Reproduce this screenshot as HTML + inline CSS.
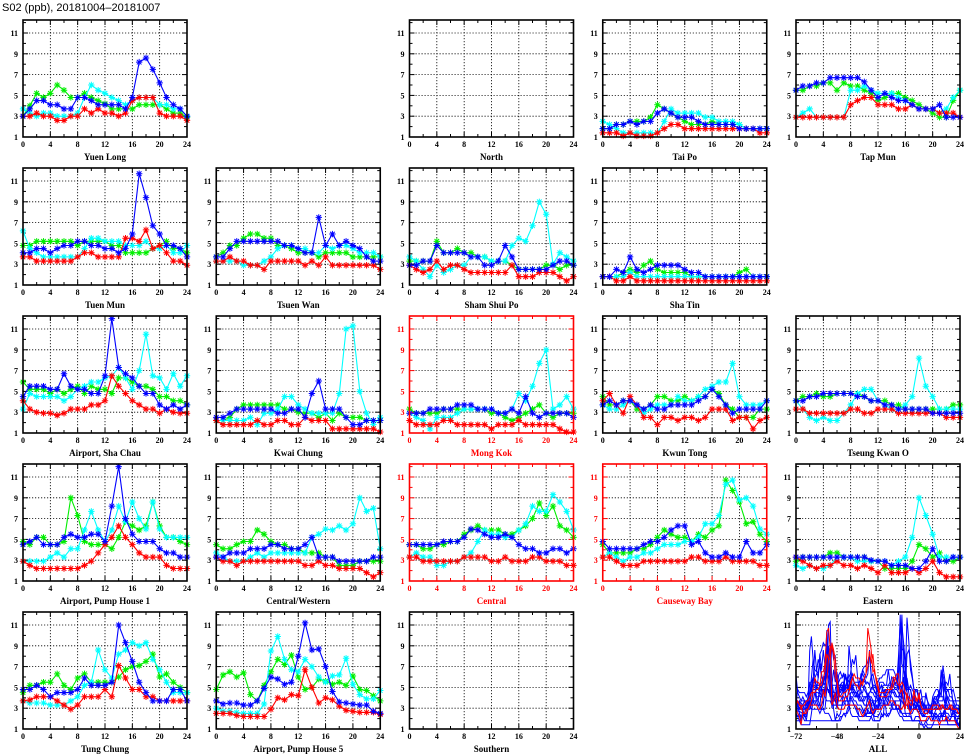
<!DOCTYPE html>
<html><head><meta charset="utf-8"><style>
html,body{margin:0;padding:0;background:#fff;}
svg{display:block;}
text{font-family:"Liberation Serif",serif;font-weight:bold;}
</style></head><body>
<svg id="chart" width="965" height="755" viewBox="0 0 965 755" xmlns="http://www.w3.org/2000/svg">
<rect width="965" height="755" fill="#fff"/>
<text x="2" y="11" font-size="11" style="font-family:'Liberation Sans',sans-serif;font-weight:normal">S02 (ppb), 20181004–20181007</text>
</svg>
<script>
const hours = [0,1,2,3,4,5,6,7,8,9,10,11,12,13,14,15,16,17,18,19,20,21,22,23,24];
const xTickLabels = [0,4,8,12,16,20,24];
const yTickLabels = [1,3,5,7,9,11];
const allXTickLabels = [-72,-48,-24,0,24];

const yuenLong_red=[3,3,3.3,3,3,2.6,2.6,3,3,3.7,3.3,3.7,3.3,3.3,3,3.3,4.5,4.8,4.8,4.8,3.3,3,3,3,2.6];
const yuenLong_green=[3,4,5.2,4.8,5.2,6,5.5,4.8,4.8,5.2,4.8,4.5,4.2,3.7,3.7,3.7,3.7,4.1,4.1,4.1,4.1,3.7,3.3,3.3,2.9];
const yuenLong_cyan=[3.7,3.3,3,3.3,3.3,3,3,3,3.3,4.8,6,5.5,5.2,4.8,4.5,4.1,4.5,4.8,4.8,4.8,4.1,4.1,3.7,3.7,3];
const yuenLong_blue=[3,3.7,4.5,4.5,4.1,4.1,3.7,3.7,4.8,4.8,4.5,4.1,4.1,4.1,4.1,3.7,4.8,8.2,8.6,7.5,6.2,4.8,4.1,3.7,3];

const taiPo_red=[1.4,1.4,1.4,1.1,1.4,1.1,1.1,1.1,1.4,1.8,2.2,2.2,1.8,1.8,1.8,1.8,1.8,1.8,1.8,1.8,1.8,1.8,1.8,1.4,1.4];
const taiPo_green=[1.8,1.8,2.2,2.2,2.5,2.5,2.5,2.9,4.1,3.7,3.3,2.9,2.5,2.2,2.2,2.2,2.5,2.2,2.2,2.2,2.2,1.8,1.8,1.8,1.8];
const taiPo_cyan=[2.5,2.2,1.8,1.4,1.4,1.4,1.4,1.4,1.4,2.5,3.7,3.3,3.3,3.3,3.3,2.9,2.9,2.5,2.5,2.5,2.2,1.8,1.8,1.8,1.8];
const taiPo_blue=[1.8,1.8,2.2,2.2,2.5,2.2,2.5,2.5,3.3,3.7,3.3,2.9,2.9,2.9,2.5,2.2,2.2,2.2,2.2,2.2,1.8,1.8,1.8,1.8,1.8];

const tapMun_red=[2.9,2.9,2.9,2.9,2.9,2.9,2.9,2.9,4.1,4.5,4.8,4.8,4.1,4.1,4.1,3.7,3.7,4.1,3.7,3.7,3.7,3.3,3.3,3.3,2.9];
const tapMun_green=[5.5,5.5,5.9,5.9,6.2,6.2,5.5,6.2,5.9,5.9,5.5,5.2,4.5,4.8,5.2,5.2,4.8,4.5,4.1,3.7,3.3,2.9,2.9,4.5,5.5];
const tapMun_cyan=[2.9,3.3,3.7,2.9,2.9,2.9,2.9,2.9,5.5,5.5,5.9,5.5,5.2,5.2,5.2,4.8,4.5,4.1,3.7,3.7,3.7,3.3,3.7,4.8,5.5];
const tapMun_blue=[5.5,5.9,5.9,6.2,6.2,6.7,6.7,6.7,6.7,6.7,6.3,5.5,4.8,5.2,4.8,4.5,4.5,4.1,3.7,3.7,3.7,4.1,2.9,2.9,2.9];

const tuenMun_red=[3.7,3.7,3.3,3.3,3.3,3.3,3.3,3.3,3.7,4.1,4.1,3.7,3.7,3.7,3.7,5.5,5.5,5.2,6.3,4.5,4.8,4.1,3.3,3.3,2.9];
const tuenMun_green=[4.8,4.8,5.2,5.2,5.2,5.2,5.2,5.2,4.8,5.2,5.2,5.2,5.2,4.8,4.8,4.1,4.1,4.1,4.1,4.5,4.8,5.2,4.5,4.5,4.1];
const tuenMun_cyan=[6.2,4.5,4.1,3.7,3.7,3.7,3.7,3.7,3.7,4.5,5.5,5.5,5.2,5.2,5.2,4.8,4.8,4.8,5.2,4.5,4.5,4.8,4.1,4.1,4.8];
const tuenMun_blue=[4.1,4.1,4.5,4.5,4.1,4.5,4.8,4.8,5.2,5.2,4.8,4.8,4.5,4.5,4.1,4.5,5.9,11.7,9.4,6.7,5.9,4.8,4.8,4.5,3.7];

const tsuenWan_red=[3.3,3.3,3.7,3.3,3.3,2.9,2.9,2.5,3.3,3.3,3.3,3.3,3.3,2.9,3.3,2.9,3.7,2.9,2.9,2.9,2.9,2.9,2.9,2.9,2.5];
const tsuenWan_green=[3.7,4.1,4.8,4.8,5.5,5.9,5.9,5.5,5.5,4.8,4.8,4.5,4.1,4.1,4.1,3.7,4.1,4.1,4.1,4.1,3.7,3.7,3.7,3.7,3.7];
const tsuenWan_cyan=[3.3,3.3,3.3,3.3,2.9,2.9,2.9,3.3,3.7,4.5,4.8,4.8,4.5,4.5,4.1,4.1,4.8,4.5,4.8,4.8,4.5,4.1,4.1,4.1,3.7];
const tsuenWan_blue=[3.7,3.7,4.5,5.2,5.2,5.2,5.2,5.2,5.2,5.2,4.8,4.8,4.5,4.1,4.1,7.5,4.8,5.9,4.8,5.2,4.8,4.5,3.7,3.3,3.3];

const shamShuiPo_red=[2.9,2.5,2.2,2.5,3.3,2.5,2.9,2.9,2.5,2.2,2.2,2.2,2.2,2.2,2.2,2.9,1.8,1.8,1.8,2.2,2.2,2.2,1.8,1.4,1.8];
const shamShuiPo_green=[3.3,3.3,3.3,3.3,5.2,4.1,4.1,4.5,4.1,4.1,3.7,3.7,3.3,3.3,3.3,2.9,2.5,2.5,2.5,2.5,2.9,2.9,2.5,2.9,2.9];
const shamShuiPo_cyan=[3.7,3.3,2.5,1.8,2.9,2.2,2.5,2.9,2.9,3.7,3.7,3.7,3.3,3.3,3.3,4.8,5.5,5.2,6.7,9,7.8,3,4.1,3.7,3.3];
const shamShuiPo_blue=[2.9,2.9,3.3,3.3,4.8,4.1,4.1,4.1,4.1,3.7,3.7,2.9,2.9,3.3,4.8,3.7,2.5,2.5,2.5,2.5,2.5,2.9,3.3,3.3,2.9];

const shaTin_red=[1.8,1.8,1.4,1.4,1.8,1.4,1.4,1.4,1.4,1.4,1.4,1.4,1.4,1.4,1.4,1.4,1.4,1.4,1.4,1.4,1.4,1.4,1.4,1.4,1.4];
const shaTin_green=[1.8,1.8,1.8,2.2,2.5,2.2,2.9,3.3,2.5,2.2,2.2,2.2,2.2,1.8,1.8,1.8,1.8,1.8,1.8,1.8,2.2,2.5,1.8,1.8,1.8];
const shaTin_cyan=[1.8,1.8,1.8,1.8,2.2,1.8,1.8,1.8,1.8,1.8,1.8,1.8,1.8,1.8,1.8,1.8,1.8,1.8,1.8,1.8,1.8,1.8,1.8,1.8,1.8];
const shaTin_blue=[1.8,1.8,2.5,2.2,3.7,2.5,2.2,2.5,2.9,2.9,2.9,2.9,2.5,2.2,2.2,1.8,1.8,1.8,1.8,1.8,1.8,1.8,1.8,1.8,1.8];

const airportShaChau_red=[4.1,3.3,3,2.9,2.9,2.7,2.9,3.3,3.3,3.3,3.7,3.7,4.1,6.5,5.5,4.8,4.1,3.7,3.3,3.3,2.9,3.3,3,2.9,2.9];
const airportShaChau_green=[5.9,5.2,5.2,5.2,4.8,5.2,4.8,5.2,5.5,4.8,5.5,5.2,5.2,4.8,6.3,6.3,5.9,5.5,5.5,5.2,4.5,4.5,4.1,4.1,3.7];
const airportShaChau_cyan=[3.3,4.8,4.5,4.5,4.5,4.5,4.1,4.5,5.2,5.5,5.9,5.9,6.3,6.5,7.3,6.3,5.2,7,10.5,6.5,6.3,5.2,6.7,5.5,6.5];
const airportShaChau_blue=[4.5,5.5,5.5,5.5,5.2,5.2,6.7,5.5,5.2,5.2,4.8,4.8,6.5,12,7.3,6.7,6.3,5.5,4.8,4.8,3.7,3.3,3.7,3.3,3.7];

const kwaiChung_red=[2.2,1.8,1.8,1.8,1.8,1.8,2.2,1.8,1.8,2.2,2.2,1.8,1.8,2.5,2.2,2.2,2.2,1.4,1.4,1.4,1.4,1.4,1.4,1.4,1.1];
const kwaiChung_green=[2.2,2.2,2.5,3.3,3.7,3.7,3.7,3.7,3.7,3.7,3.3,3.3,3,2.9,2.9,2.5,2.9,2.2,2.9,2.5,2.5,2.5,2.2,2.2,2.2];
const kwaiChung_cyan=[2.2,2.2,2.2,2.2,2.2,2.5,1.8,2.9,2.9,3.3,4.5,4.5,3.7,3.3,2.9,2.9,2.9,2.9,4.8,11,11.3,5,2.9,1.8,2.5];
const kwaiChung_blue=[2.5,2.5,2.9,3.3,3.3,3.3,3.3,3.3,3.3,2.9,2.9,3.3,3.3,2.5,4.8,6,3.3,3.3,3.3,2.5,1.8,1.8,2.2,2.2,2.2];

const mongKok_red=[2.2,1.8,1.8,1.8,1.8,2.2,2.2,1.8,1.8,1.8,1.8,1.8,1.4,1.8,1.8,1.8,2.2,1.8,1.8,1.8,1.8,1.8,1.4,1.1,1.1];
const mongKok_green=[3.3,2.9,2.9,2.9,2.9,3.3,3.3,3.3,3.3,3.3,3.3,3.3,2.9,2.9,2.5,2.2,2.5,2.9,3.3,3.7,2.9,2.5,2.9,2.9,2.9];
const mongKok_cyan=[2.9,2.5,2.2,1.4,2.5,2.5,2.5,2.9,3.3,3.3,3.3,3.3,3.3,2.9,2.9,3.3,4.8,4.1,5.5,7.7,9,3.3,3.7,4.5,3.3];
const mongKok_blue=[2.9,2.9,2.9,3.3,3.3,3.3,3.3,3.7,3.7,3.7,3.3,3.3,3.3,2.9,2.9,3.3,2.9,4.5,2.9,2.5,2.9,2.9,2.9,2.9,2.5];

const kwunTong_red=[4.1,4.8,3.7,2.9,4.5,3.7,2.5,2.5,1.8,2.5,2.5,2.2,2.5,2.5,2.2,2.5,3.3,3.3,3.3,2.2,2.5,2.5,1.4,2.2,2.5];
const kwunTong_green=[4.5,3.7,3.7,4.1,4.1,3.3,3.3,3.7,4.5,4.5,4.1,4.1,4.5,4.1,4.5,4.5,5.2,4.8,3.7,3.3,2.5,2.5,2.5,3.3,3.3];
const kwunTong_cyan=[3.7,3.3,3.3,3.7,4.1,3.7,2.9,3.3,3.7,3.7,3.7,4.5,4.1,4.1,4.5,5.2,5.5,5.9,5.9,7.7,4.5,3.7,3.7,3.7,4.1];
const kwunTong_blue=[3.7,4.1,3.7,4.1,4.1,3.7,3.3,3.7,3.3,3.3,3.7,3.7,3.7,3.7,4.1,4.5,5.2,4.5,3.7,2.9,3.3,3.3,3.3,3.3,4.1];

const tseungKwanO_red=[3.3,3.3,2.9,2.9,2.9,2.9,2.9,2.9,3.3,3.3,2.9,2.9,3.3,3.3,3.3,2.9,2.9,2.9,2.9,2.9,2.9,2.9,2.5,2.5,2.5];
const tseungKwanO_green=[4.1,4.5,4.5,4.8,4.5,4.5,4.8,4.8,4.8,4.8,4.5,4.1,4.1,4.1,3.7,3.7,3.3,3.3,3.3,3.3,3.3,3.3,3.3,3.7,3.7];
const tseungKwanO_cyan=[4.1,3.3,2.5,2.2,2.5,2.2,2.2,2.9,3.7,4.8,5.2,5.2,4.1,3.7,3.3,3.3,3.7,4.5,8.2,5.5,4.5,3.3,3.3,3.3,3.3];
const tseungKwanO_blue=[4.1,4.1,4.5,4.5,4.8,4.8,4.8,4.8,4.8,4.5,4.5,4.1,4.1,3.7,3.7,3.3,3.3,3.3,3.3,3.3,2.9,2.9,2.9,2.9,2.9];

const pumpHouse1_red=[2.9,2.5,2.2,2.2,2.2,2.2,2.2,2.2,2.2,2.5,2.9,3.7,4.5,5.2,6.3,5.2,4.5,3.7,3.3,3.3,3.3,2.5,2.2,2.2,2.2];
const pumpHouse1_green=[4.8,4.5,5.2,5.2,4.5,4.5,4.8,9,7.3,4.8,4.5,4.5,4.5,4.1,5.2,6.7,6.3,5.9,6.3,8.6,6.3,5.2,5.2,4.8,4.5];
const pumpHouse1_cyan=[2.9,2.9,2.9,2.9,3.3,3.7,3.3,4.1,4.1,5.9,7.7,5.9,4.8,5.9,8.2,6.7,8.6,7,6,8.6,6,5.2,5.2,5.2,5.2];
const pumpHouse1_blue=[4.5,4.8,5.2,4.5,4.5,4.5,5.2,5.5,5.2,5.2,5.5,5.5,4.8,8.2,12,7,5.5,4.8,4.8,4.8,4.1,3.7,3.7,3.3,3.3];

const centralWestern_red=[3.3,2.9,2.9,2.5,2.9,2.9,2.9,2.9,2.9,2.9,2.9,2.9,2.9,2.5,2.5,2.9,2.5,2.5,2.2,2.2,2.2,2.2,1.8,1.4,1.8];
const centralWestern_green=[4.5,4.1,4.1,4.5,4.8,4.8,5.9,5.5,4.8,4.5,4.5,4.1,4.1,3.7,3.7,3.7,3.3,3.3,2.5,2.5,2.5,2.9,2.9,2.9,2.9];
const centralWestern_cyan=[3.7,3.3,2.9,2.9,2.9,3.3,3.7,3.3,3.7,3.7,3.7,3.7,3.7,3.7,5.2,5.5,6,5.9,6.3,5.9,6.5,9,7.7,8,4.1];
const centralWestern_blue=[3.3,3.3,3.7,3.7,3.7,4.1,4.1,4.1,4.5,4.5,4.1,4.1,4.1,4.5,5.2,3.3,3.3,3.3,2.9,2.9,2.9,2.9,2.9,3.3,3.3];

const central_red=[3.3,3.3,2.9,2.9,2.9,2.9,2.9,2.9,3.3,3.3,3.3,3.3,2.9,2.9,3.3,2.9,2.9,2.9,3.3,3.3,2.9,2.9,2.9,2.5,2.5];
const central_green=[4.5,4.5,4.1,4.1,4.5,4.5,4.8,4.8,5.5,5.9,6.3,5.9,5.9,5.9,5.5,5.5,5.9,6.3,7,8.5,7.3,8.2,6.3,5.9,5.2];
const central_cyan=[3.3,3.7,3.3,3.3,2.5,2.5,2.9,2.9,3.3,3.7,4.8,5.9,5.5,5.5,5.2,5.2,5.9,6.5,8.2,7.7,7.7,9.3,8.6,7.7,5.9];
const central_blue=[4.5,4.5,4.5,4.5,4.5,4.8,4.8,4.8,5.2,6,5.9,5.5,5.2,5.2,5.5,5.2,4.5,4.1,4.1,3.7,3.7,4.1,4.1,3.7,4.1];

const causewayBay_red=[3.3,3.3,2.9,2.5,2.5,2.5,2.9,2.9,2.9,2.9,2.9,2.9,2.9,3.3,3.3,2.9,2.9,2.9,3.3,2.9,2.9,2.9,2.9,2.5,2.5];
const causewayBay_green=[4.5,3.7,3.7,3.7,3.7,4.1,4.1,4.5,5.2,5.9,5.5,5.2,5.2,4.8,5.5,5.2,5.9,6.3,10.7,9.7,8.6,6.5,6.7,5.5,4.8];
const causewayBay_cyan=[3.3,3.7,3.3,2.9,3.3,3.3,3.7,3.7,4.1,4.5,4.5,4.5,4.8,4.8,5.2,6.5,6.5,7.3,10.3,10.7,8.8,9,8.2,6,5.5];
const causewayBay_blue=[4.8,4.1,4.1,4.1,4.1,4.1,4.5,4.8,4.8,5.2,5.9,6.3,6.3,4.5,4.8,3.7,3.3,3.3,3.7,3.3,3.3,4.8,3.7,3.7,4.5];

const eastern_red=[3.3,2.9,2.5,2.2,2.5,2.5,2.9,2.5,2.5,2.2,2.5,2.2,1.8,2.5,1.8,1.8,1.8,2.2,1.8,2.2,2.9,1.8,1.4,1.4,1.4];
const eastern_green=[2.9,3.3,3.3,3.3,3.3,3.7,3.7,3.3,3.3,3.3,3.3,2.9,2.9,2.2,2.2,2.2,2.2,2.9,4.5,4.1,3.3,3.7,2.9,2.9,3.3];
const eastern_cyan=[2.5,2.2,2.5,2.2,2.2,2.5,3.3,3.3,3.3,2.9,2.9,2.9,2.9,2.9,2.5,2.9,3.3,5.2,9,7.3,5.5,3.3,3.3,3.3,3.3];
const eastern_blue=[3.3,3.3,3.3,3.3,3.3,3.3,3.3,3.3,3.3,3.3,3.3,3,2.9,2.9,2.5,2.5,2.5,2.2,2.2,2.9,4.1,2.9,2.9,3.3,3.3];

const tungChung_red=[3.7,3.8,4.1,4.1,4.1,3.7,3.3,2.9,3.3,4.1,4.1,4.1,4.8,4.1,7.1,5.9,4.8,4.8,4.1,4.1,3.7,3.7,3.7,3.7,3.7];
const tungChung_green=[4.5,5.2,5.2,5.5,5.5,6.3,5.2,4.8,5.9,6.3,5.5,5.5,5.5,5.5,6,6.7,7,7.1,7.5,8.2,6,6.3,5.5,5,4.5];
const tungChung_cyan=[3.7,3.5,3.5,3.5,3.3,3.3,3.3,3.7,4.1,5.2,5.5,8.6,6.7,5.9,8.2,8.6,9.3,9,9.3,7.7,6.7,5.5,4.5,4.5,4.5];
const tungChung_blue=[4.8,4.8,5.2,4.8,4.1,4.5,4.5,4.5,4.8,5.9,5.2,5.2,5.2,5.5,11,9.3,7.5,5.5,4.5,3.7,3.7,3.7,4.8,4.8,3.7];

const pumpHouse5_red=[2.5,2.5,2.5,2.3,2.2,2.2,2.2,2.2,2.9,4,3.8,4.3,4.2,6.7,5,3.5,4,3.8,3.2,2.8,2.7,2.6,2.6,2.6,2.4];
const pumpHouse5_green=[4.8,6.2,6.5,6,6.4,4.3,3.7,5.2,6.5,7.7,7.2,8.1,6,4.8,5,5.8,5.6,5.3,5.5,5.2,6.1,4.8,4.7,4.2,3.7];
const pumpHouse5_cyan=[3,2.7,2.7,2.6,2.5,2.5,2.5,3.4,8.5,9.9,7.7,6.7,6.5,7.7,7,6,5.5,6.1,6.2,7.8,5.3,4.3,3.9,3.9,4.7];
const pumpHouse5_blue=[3.7,3.4,3.5,3.5,3.3,3.3,3.7,4.9,6,5.8,5.3,5.5,8,11.2,8.6,8.7,7,4.6,3.6,3.5,3.4,3.3,3.3,2.7,2.5];

const panels = [
 {name:"Yuen Long",col:0,row:0,hl:false,s:[yuenLong_green,yuenLong_cyan,yuenLong_red,yuenLong_blue]},
 {name:"North",col:2,row:0,hl:false,s:null},
 {name:"Tai Po",col:3,row:0,hl:false,s:[taiPo_green,taiPo_cyan,taiPo_red,taiPo_blue]},
 {name:"Tap Mun",col:4,row:0,hl:false,s:[tapMun_green,tapMun_cyan,tapMun_red,tapMun_blue]},
 {name:"Tuen Mun",col:0,row:1,hl:false,s:[tuenMun_green,tuenMun_cyan,tuenMun_red,tuenMun_blue]},
 {name:"Tsuen Wan",col:1,row:1,hl:false,s:[tsuenWan_green,tsuenWan_cyan,tsuenWan_red,tsuenWan_blue]},
 {name:"Sham Shui Po",col:2,row:1,hl:false,s:[shamShuiPo_green,shamShuiPo_cyan,shamShuiPo_red,shamShuiPo_blue]},
 {name:"Sha Tin",col:3,row:1,hl:false,s:[shaTin_green,shaTin_cyan,shaTin_red,shaTin_blue]},
 {name:"Airport, Sha Chau",col:0,row:2,hl:false,s:[airportShaChau_green,airportShaChau_cyan,airportShaChau_red,airportShaChau_blue]},
 {name:"Kwai Chung",col:1,row:2,hl:false,s:[kwaiChung_green,kwaiChung_cyan,kwaiChung_red,kwaiChung_blue]},
 {name:"Mong Kok",col:2,row:2,hl:true,s:[mongKok_green,mongKok_cyan,mongKok_red,mongKok_blue]},
 {name:"Kwun Tong",col:3,row:2,hl:false,s:[kwunTong_green,kwunTong_cyan,kwunTong_red,kwunTong_blue]},
 {name:"Tseung Kwan O",col:4,row:2,hl:false,s:[tseungKwanO_green,tseungKwanO_cyan,tseungKwanO_red,tseungKwanO_blue]},
 {name:"Airport, Pump House 1",col:0,row:3,hl:false,s:[pumpHouse1_green,pumpHouse1_cyan,pumpHouse1_red,pumpHouse1_blue]},
 {name:"Central/Western",col:1,row:3,hl:false,s:[centralWestern_green,centralWestern_cyan,centralWestern_red,centralWestern_blue]},
 {name:"Central",col:2,row:3,hl:true,s:[central_green,central_cyan,central_red,central_blue]},
 {name:"Causeway Bay",col:3,row:3,hl:true,s:[causewayBay_green,causewayBay_cyan,causewayBay_red,causewayBay_blue]},
 {name:"Eastern",col:4,row:3,hl:false,s:[eastern_green,eastern_cyan,eastern_red,eastern_blue]},
 {name:"Tung Chung",col:0,row:4,hl:false,s:[tungChung_green,tungChung_cyan,tungChung_red,tungChung_blue]},
 {name:"Airport, Pump House 5",col:1,row:4,hl:false,s:[pumpHouse5_green,pumpHouse5_cyan,pumpHouse5_red,pumpHouse5_blue]},
 {name:"Southern",col:2,row:4,hl:false,s:null}
];
const seriesColors = ["#00ee00","#00ffff","#ff0000","#0000ff"];
const seriesNames = ["green","cyan","red","blue"];

const svg = document.getElementById('chart');
const NS = "http://www.w3.org/2000/svg";
const PW = 164, PH = 117, YMIN = 1, YMAX = 12.25;
function mk(tag, attrs, parent){
  const e = document.createElementNS(NS, tag);
  for (const k in attrs) e.setAttribute(k, attrs[k]);
  (parent||svg).appendChild(e);
  return e;
}
function slug(s){return s.toLowerCase().replace(/[^a-z0-9]+/g,'-').replace(/^-|-$/g,'');}

function drawAxes(g, L, T, xmin, xmax, xticks, xminor, color, name){
  const xs = v => L + (v - xmin) / (xmax - xmin) * PW;
  const ys = v => T + PH - (v - YMIN) / (YMAX - YMIN) * PH;
  xticks.forEach(v => { if (v > xmin && v < xmax) {
    const l = mk('line',{x1:xs(v),x2:xs(v),y1:T,y2:T+PH,stroke:'#000','stroke-width':0.8,'stroke-dasharray':'1.2,1.8'},g);
     
  }});
  [3,5,7,9,11].forEach(v => {
    const l = mk('line',{x1:L,x2:L+PW,y1:ys(v),y2:ys(v),stroke:'#000','stroke-width':0.8,'stroke-dasharray':'1.2,1.8'},g);
     
  });
  for (let v = xmin; v <= xmax; v += xminor) {
    const len = (xticks.indexOf(v) >= 0) ? 5 : 3;
    mk('line',{x1:xs(v),x2:xs(v),y1:T+PH,y2:T+PH-len,stroke:color,'stroke-width':1},g);
    mk('line',{x1:xs(v),x2:xs(v),y1:T,y2:T+len,stroke:color,'stroke-width':1},g);
  }
  for (let v = 1; v <= 12; v++) {
    const len = (v % 2 === 1) ? 5 : 3;
    mk('line',{x1:L,x2:L+len,y1:ys(v),y2:ys(v),stroke:color,'stroke-width':1},g);
    mk('line',{x1:L+PW,x2:L+PW-len,y1:ys(v),y2:ys(v),stroke:color,'stroke-width':1},g);
  }
  xticks.forEach(v => {
    const t = mk('text',{x:xs(v),y:T+PH+10,'font-size':8,'text-anchor':'middle',fill:color},g);
     
    t.textContent = v < 0 ? '−' + Math.abs(v) : String(v);
  });
  yTickLabels.forEach(v => {
    const t = mk('text',{x:L-5,y:ys(v)+3,'font-size':8,'text-anchor':'end',fill:color},g);
     
    t.textContent = v;
  });
  const nm = mk('text',{x:L+PW/2,y:T+PH+23,'font-size':9,'text-anchor':'middle',fill:color},g);
   
  nm.textContent = name;
  return {xs, ys};
}

panels.forEach(p => {
  const L = 23 + p.col * 193.25, T = 20 + p.row * 148;
  const g = mk('g',{});
  
  
  const color = p.hl ? '#ff0000' : '#000';
  const ax = drawAxes(g, L, T, 0, 24, xTickLabels, 2, color, p.name);
  if (p.s) p.s.forEach((vals, si) => {
    const sg = mk('g',{stroke:seriesColors[si],fill:'none'},g);
    
    
    const pts = vals.map((v,i) => ax.xs(hours[i]).toFixed(1)+','+ax.ys(v).toFixed(1)).join(' ');
    mk('polyline',{points:pts,'stroke-width':1.1},sg);
    const m = [];
    vals.forEach((v,i) => {
      const x = ax.xs(hours[i]), y = ax.ys(v), r = 3.2;
      m.push(`M${x-r},${y}h${2*r}M${x},${y-r}v${2*r}M${x-r*0.72},${y-r*0.72}l${1.44*r},${1.44*r}M${x-r*0.72},${y+r*0.72}l${1.44*r},${-1.44*r}`);
    });
    const mp = mk('path',{d:m.join(''),'stroke-width':1},sg);
     
  });
  mk('rect',{x:L,y:T,width:PW,height:PH,fill:'none',stroke:color,'stroke-width':1.6},g);
});

// ALL panel: each station's four days concatenated (-72..24): cyan, green, blue, red
(function(){
  const L = 796, T = 612;
  const g = mk('g',{});
  
  
  const ax = drawAxes(g, L, T, -72, 24, allXTickLabels, 12, '#000', 'ALL');
  const clip = mk('clipPath',{id:'allclip'},g);
  mk('rect',{x:L,y:T,width:PW,height:PH},clip);
  const lg = mk('g',{'clip-path':'url(#allclip)',fill:'none'},g);
  const withData = panels.filter(p => p.s);
  const ordered = withData.filter(p => !p.hl).concat(withData.filter(p => p.hl));
  ordered.forEach(p => {
    const vals = p.s[1].concat(p.s[0].slice(1), p.s[3].slice(1), p.s[2].slice(1));
    const pts = vals.map((v,i) => ax.xs(i - 72).toFixed(1)+','+ax.ys(v).toFixed(1)).join(' ');
    const pl = mk('polyline',{points:pts,stroke:p.hl?'#ff0000':'#0000ff','stroke-width':1},lg);
    
    
  });
  mk('rect',{x:L,y:T,width:PW,height:PH,fill:'none',stroke:'#000','stroke-width':1.6},g);
})();
</script>
</body></html>
